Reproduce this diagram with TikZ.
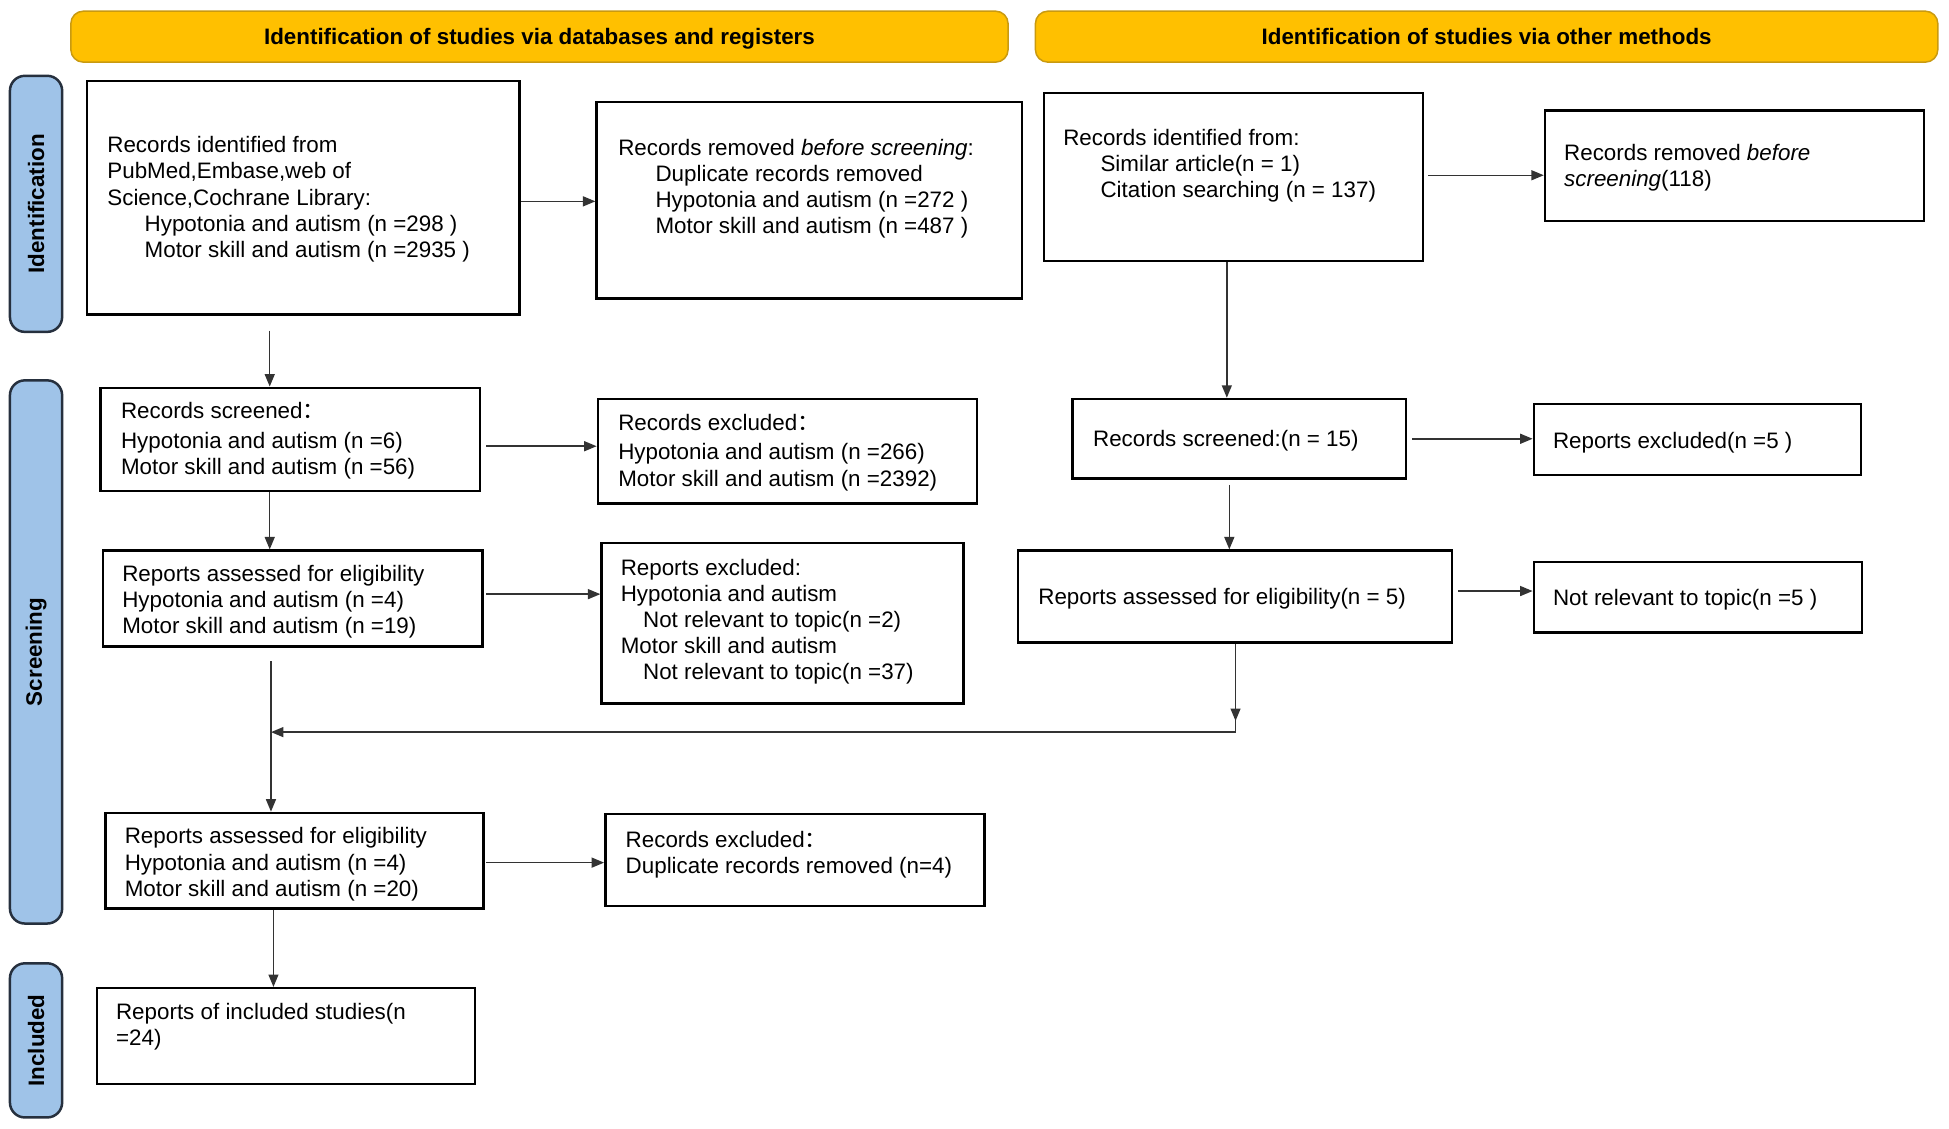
\documentclass[tikz,border=0pt]{standalone}
\usepackage{fontspec}
\setmainfont{Liberation Sans}
\newfontfamily\cjk{Noto Sans CJK SC}
\usetikzlibrary{arrows.meta,fit}
\definecolor{gold}{HTML}{FFC000}
\definecolor{golddark}{HTML}{C99A10}
\definecolor{sideblue}{HTML}{9FC3E8}
\definecolor{sideedge}{HTML}{26303E}
\newcommand{\ind}{\hspace*{15pt}}
\newcommand{\indb}{\hspace*{9pt}}
\newcommand{\fc}{{\cjk ：}}
\begin{document}
\begin{tikzpicture}[x=0.5pt,y=-0.5pt,
  box/.style={draw, line width=1pt, inner sep=0pt},
  txt/.style={inner sep=0pt, align=left, font=\fontsize{9}{10.5}\selectfont, anchor=base west},
  hdr/.style={draw=golddark, fill=gold, rounded corners=5pt, line width=0.6pt, inner sep=0pt},
  hdrtxt/.style={inner sep=0pt, anchor=base, yshift=-3.3pt, font=\fontsize{9}{10.5}\selectfont\bfseries},
  side/.style={draw=sideedge, fill=sideblue, rounded corners=6pt, line width=1pt, inner sep=0pt},
  sidetxt/.style={inner sep=0pt, rotate=90, font=\fontsize{9}{10.5}\selectfont\bfseries},
  arr/.style={-{Triangle[length=5pt,width=4pt]}, line width=0.6pt, draw=black!80},
  ln/.style={line width=0.6pt, draw=black!80}]
\useasboundingbox (0,0) rectangle (1568,908);
% headers
\node[hdr, fit={(57,9)(811,50)}] (h1) {};
\node[hdrtxt] (h1t) at (h1.center) {Identification of studies via databases and registers};
\node[hdr, fit={(833,9)(1559,50)}] (h2) {};
\node[hdrtxt] (h2t) at (h2.center) {Identification of studies via other methods};
% side labels
\node[side, fit={(8,61)(50,267)}] (s1) {};
\node[sidetxt] (s1t) at (s1.center) {Identification};
\node[side, fit={(8,306)(50,743)}] (s2) {};
\node[sidetxt] (s2t) at (s2.center) {Screening};
\node[side, fit={(8,775)(50,899)}] (s3) {};
\node[sidetxt] (s3t) at (s3.center) {Included};
% boxes
\node[box, fit={(70,65)(418,253)}] (A1) {};
\node[box, fit={(480,82)(822,240)}] (A2) {};
\node[box, fit={(840,75)(1145,210)}] (B1) {};
\node[box, fit={(1243,89)(1548,178)}] (B2) {};
\node[box, fit={(81,312)(386,395)}] (A3) {};
\node[box, fit={(481,321)(786,405)}] (A4) {};
\node[box, fit={(863,321)(1131,385)}] (B3) {};
\node[box, fit={(1234,325)(1497,382)}] (B4) {};
\node[box, fit={(83,443)(388,520)}] (A5) {};
\node[box, fit={(484,437)(775,566)}] (A6) {};
\node[box, fit={(819,443)(1168,517)}] (B5) {};
\node[box, fit={(1234,452)(1498,509)}] (B6) {};
\node[box, fit={(85,654)(389,731)}] (A7) {};
\node[box, fit={(487,655)(792,729)}] (A8) {};
\node[box, fit={(78,795)(382,872)}] (A9) {};
% texts (base = baseline of last line)
\node[txt] (A1t) at (86,207) {Records identified from\\PubMed,Embase,web of\\Science,Cochrane Library:\\\ind Hypotonia and autism (n =298 )\\\ind Motor skill and autism (n =2935 )};
\node[txt] (A2t) at (497,188) {Records removed \textit{before screening}:\\\ind Duplicate records removed\\\ind Hypotonia and autism (n =272 )\\\ind Motor skill and autism (n =487 )};
\node[txt] (B1t) at (855,159) {Records identified from:\\\ind Similar article(n = 1)\\\ind Citation searching (n = 137)};
\node[txt] (B2t) at (1258,150) {Records removed \textit{before}\\\textit{screening}(118)};
\node[txt] (A3t) at (97,382) {Records screened\fc\\[1.5pt]Hypotonia and autism (n =6)\\Motor skill and autism (n =56)};
\node[txt] (A4t) at (497,391) {Records excluded\fc\\[1.5pt]Hypotonia and autism (n =266)\\Motor skill and autism (n =2392)};
\node[txt] (B3t) at (879,359) {Records screened:(n = 15)};
\node[txt] (B4t) at (1249,361) {Reports excluded(n =5 )};
\node[txt] (A5t) at (98,510) {Reports assessed for eligibility\\Hypotonia and autism (n =4)\\Motor skill and autism (n =19)};
\node[txt] (A6t) at (499,547) {Reports excluded:\\Hypotonia and autism\\\indb Not relevant to topic(n =2)\\Motor skill and autism\\\indb Not relevant to topic(n =37)};
\node[txt] (B5t) at (835,486) {Reports assessed for eligibility(n = 5)};
\node[txt] (B6t) at (1249,487) {Not relevant to topic(n =5 )};
\node[txt] (A7t) at (100,721) {Reports assessed for eligibility\\Hypotonia and autism (n =4)\\Motor skill and autism (n =20)};
\node[txt] (A8t) at (503,703) {Records excluded\fc\\Duplicate records removed (n=4)};
\node[txt] (A9t) at (93,841) {Reports of included studies(n\\=24)};
% horizontal arrows
\draw[arr] ([yshift=-1.5pt]A1.east) -- ([yshift=-1.5pt]A1.east -| A2.west);
\draw[arr, shorten <=2pt] ([yshift=-2.75pt]A3.east) -- ([yshift=-2.75pt]A3.east -| A4.west);
\draw[arr, shorten <=1.5pt] ([yshift=0.75pt]B1.east) -- ([yshift=0.75pt]B1.east -| B2.west);
\draw[arr, shorten <=2pt] (B3.east) -- (B3.east -| B4.west);
\draw[arr, shorten <=1pt] ([yshift=1.75pt]A5.east) -- ([yshift=1.75pt]A5.east -| A6.west);
\draw[arr, shorten <=2pt] ([yshift=2.25pt]B5.east) -- ([yshift=2.25pt]B5.east -| B6.west);
\draw[arr, shorten <=0.5pt] ([yshift=-0.75pt]A7.east) -- ([yshift=-0.75pt]A7.east -| A8.west);
% vertical arrows
\draw[arr, shorten <=6pt] ([xshift=-13.5pt]A1.south) -- ([xshift=-8.25pt]A3.north);
\draw[arr] ([xshift=-2.75pt]B1.south) -- ([xshift=-5pt]B3.north);
\draw[arr] ([xshift=-8.25pt]A3.south) -- ([xshift=-9.25pt]A5.north);
\draw[arr, shorten <=2pt] ([xshift=-4pt]B3.south) -- ([xshift=-2.25pt]B5.north);
\draw[arr, shorten <=5.5pt] ([xshift=-8.75pt]A5.south) -- ([xshift=-9.5pt]A7.north);
\draw[arr] ([xshift=-8.5pt]A7.south) -- ([xshift=-5pt]A9.north);
% merge from other methods
\coordinate (mg) at (218,589);
\draw[arr] ([xshift=0.25pt]B5.south) -- ++(0,62);
\draw[ln] ([xshift=0.25pt]B5.south) -- ([xshift=0.25pt]B5.south |- mg);
\draw[arr] ([xshift=0.25pt]B5.south |- mg) -- (mg);
\end{tikzpicture}
\end{document}
